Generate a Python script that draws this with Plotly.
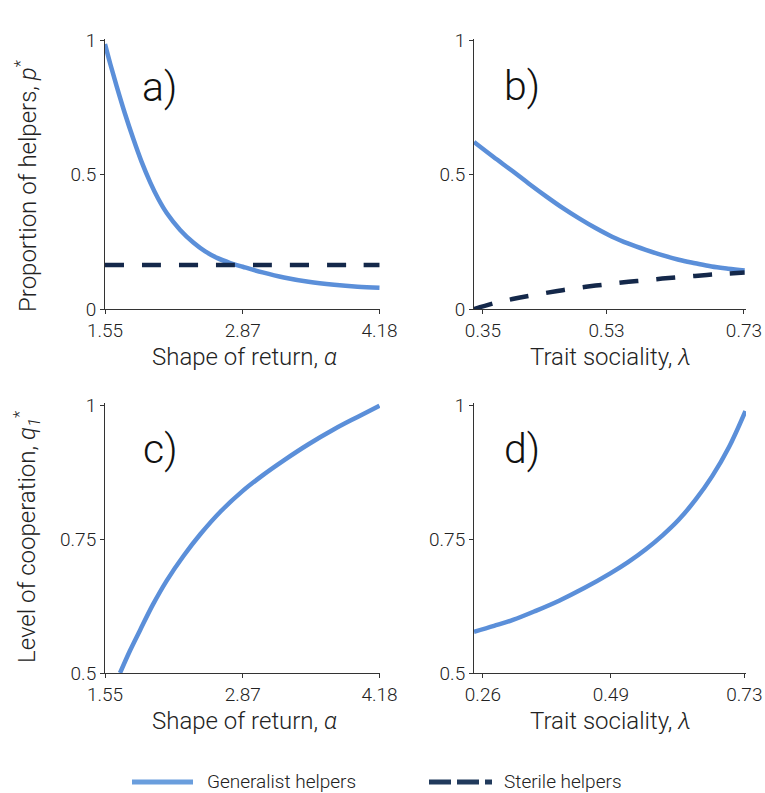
import plotly.graph_objects as go

W, H = 765, 793

# ---------------- data ----------------
# Panel a: proportion of helpers vs shape of return (alpha)
a_alpha = [1.55, 1.60, 1.662, 1.74, 1.822, 1.90, 1.982, 2.06, 2.143, 2.27, 2.399, 2.51, 2.623, 2.75, 2.87, 3.06, 3.264, 3.50, 3.745, 3.97, 4.18]
a_generalist = [0.985, 0.912, 0.828, 0.728, 0.632, 0.548, 0.472, 0.410, 0.356, 0.294, 0.246, 0.214, 0.190, 0.171, 0.157, 0.136, 0.117, 0.101, 0.090, 0.083, 0.079]
a_sterile = [0.164] * len(a_alpha)

# Panel b: proportion of helpers vs trait sociality (lambda)
b_lambda = [0.337, 0.365, 0.393, 0.417, 0.442, 0.466, 0.490, 0.514, 0.538, 0.562, 0.587, 0.611, 0.635, 0.659, 0.683, 0.707, 0.731]
b_generalist = [0.621, 0.566, 0.513, 0.466, 0.419, 0.376, 0.337, 0.301, 0.269, 0.243, 0.220, 0.200, 0.183, 0.170, 0.158, 0.150, 0.143]
b_sterile = [0.0, 0.021, 0.037, 0.049, 0.060, 0.070, 0.079, 0.087, 0.094, 0.101, 0.107, 0.113, 0.118, 0.123, 0.128, 0.132, 0.136]

# Panel c: level of cooperation vs shape of return (alpha)
c_alpha = [1.694, 1.79, 1.886, 2.01, 2.143, 2.30, 2.463, 2.66, 2.87, 3.06, 3.264, 3.50, 3.745, 3.97, 4.18]
c_generalist = [0.50, 0.542, 0.580, 0.628, 0.673, 0.718, 0.759, 0.802, 0.840, 0.869, 0.897, 0.927, 0.955, 0.978, 0.999]

# Panel d: level of cooperation vs trait sociality (lambda)
d_lambda = [0.244, 0.28, 0.314, 0.355, 0.397, 0.443, 0.489, 0.521, 0.553, 0.583, 0.612, 0.642, 0.672, 0.702, 0.732]
d_generalist = [0.577, 0.588, 0.599, 0.616, 0.635, 0.659, 0.686, 0.707, 0.731, 0.757, 0.786, 0.823, 0.867, 0.921, 0.989]

# tick labels
a_xticks = [1.55, 2.87, 4.18]
b_xticks = [0.35, 0.53, 0.73]
d_xticks = [0.26, 0.49, 0.73]
top_yticks = [0, 0.5, 1]
top_yticklabels = ["0", "0.5", "1"]
bot_yticks = [0.5, 0.75, 1]
bot_yticklabels = ["0.5", "0.75", "1"]

series_names = ["Generalist helpers", "Sterile helpers"]
panel_labels = ["a)", "b)", "c)", "d)"]

# ---------------- styling ----------------
BLUE = "#5b8fd9"
NAVY = "#14284a"
FONT = "Roboto"
TXT = "#222222"
LW = 4.5
DASH = "19px,18px"

fig = go.Figure()

def px_x(p):
    return p / W

def px_y(p):
    return 1 - p / H

dom_x_left = [px_x(105), px_x(380)]
dom_x_right = [px_x(474), px_x(746)]
dom_y_top = [px_y(309), px_y(39)]
dom_y_bot = [px_y(673), px_y(403)]

def line(color, dash=None):
    d = dict(color=color, width=LW, shape="spline", smoothing=1.0)
    if dash:
        d["dash"] = dash
    return d

fig.add_trace(go.Scatter(x=a_alpha, y=a_generalist, mode="lines", name=series_names[0],
                         line=line(BLUE), xaxis="x", yaxis="y", showlegend=False))
fig.add_trace(go.Scatter(x=a_alpha, y=a_sterile, mode="lines", name=series_names[1],
                         line=line(NAVY, DASH), xaxis="x", yaxis="y", showlegend=False))
fig.add_trace(go.Scatter(x=b_lambda, y=b_generalist, mode="lines", name=series_names[0],
                         line=line(BLUE), xaxis="x2", yaxis="y2", showlegend=False))
fig.add_trace(go.Scatter(x=b_lambda, y=b_sterile, mode="lines", name=series_names[1],
                         line=line(NAVY, DASH), xaxis="x2", yaxis="y2", showlegend=False))
fig.add_trace(go.Scatter(x=c_alpha, y=c_generalist, mode="lines", name=series_names[0],
                         line=line(BLUE), xaxis="x3", yaxis="y3", showlegend=False))
fig.add_trace(go.Scatter(x=d_lambda, y=d_generalist, mode="lines", name=series_names[0],
                         line=line(BLUE), xaxis="x4", yaxis="y4", showlegend=False))

axis_common = dict(showgrid=False, zeroline=False, showline=True, linecolor="#333333", linewidth=1,
                   ticks="outside", ticklen=4, tickcolor="#333333", tickwidth=1, automargin=False,
                   tickfont=dict(family=FONT, size=19, color=TXT, weight=300), fixedrange=True)

fig.update_layout(
    width=W, height=H,
    autosize=False,
    margin=dict(l=0, r=0, t=0, b=0, pad=0, autoexpand=False),
    paper_bgcolor="white", plot_bgcolor="white",
    font=dict(family=FONT, color=TXT, weight=300),
    showlegend=False,
    xaxis=dict(domain=dom_x_left, range=[1.55, 4.185], tickvals=a_xticks, ticktext=[f"{v:.2f}" for v in a_xticks], anchor="y", **axis_common),
    yaxis=dict(domain=dom_y_top, range=[0, 1.004], tickvals=top_yticks, ticktext=top_yticklabels, anchor="x", **axis_common),
    xaxis2=dict(domain=dom_x_right, range=[0.337, 0.733], tickvals=b_xticks, ticktext=[f"{v:.2f}" for v in b_xticks], anchor="y2", **axis_common),
    yaxis2=dict(domain=dom_y_top, range=[0, 1.004], tickvals=top_yticks, ticktext=top_yticklabels, anchor="x2", **axis_common),
    xaxis3=dict(domain=dom_x_left, range=[1.55, 4.185], tickvals=a_xticks, ticktext=[f"{v:.2f}" for v in a_xticks], anchor="y3", **axis_common),
    yaxis3=dict(domain=dom_y_bot, range=[0.5, 1.004], tickvals=bot_yticks, ticktext=bot_yticklabels, anchor="x3", **axis_common),
    xaxis4=dict(domain=dom_x_right, range=[0.244, 0.733], tickvals=d_xticks, ticktext=[f"{v:.2f}" for v in d_xticks], anchor="y4", **axis_common),
    yaxis4=dict(domain=dom_y_bot, range=[0.5, 1.004], tickvals=bot_yticks, ticktext=bot_yticklabels, anchor="x4", **axis_common),
)

xtitle_font = dict(family=FONT, size=24, color=TXT, weight=300)
ytitle_font = dict(family=FONT, size=24, color=TXT, weight=300)
ann = []
for cx, cy, txt in [(245, 357, "Shape of return, <i>α</i>"), (610, 357, "Trait sociality, <i>λ</i>"),
                    (245, 721, "Shape of return, <i>α</i>"), (610, 721, "Trait sociality, <i>λ</i>")]:
    ann.append(dict(x=px_x(cx), y=px_y(cy), xref="paper", yref="paper", text=txt, showarrow=False,
                    xanchor="center", yanchor="middle", font=xtitle_font))
ann.append(dict(x=px_x(26), y=px_y(186), xref="paper", yref="paper",
                text="Proportion of helpers, <i>p</i><sup>*</sup>", textangle=-90, showarrow=False,
                xanchor="center", yanchor="middle", font=ytitle_font))
ann.append(dict(x=px_x(26), y=px_y(537), xref="paper", yref="paper",
                text="Level of cooperation, <i>q<sub>1</sub></i><sup>*</sup>", textangle=-90, showarrow=False,
                xanchor="center", yanchor="middle", font=ytitle_font))
for (cx, cy), lab in zip([(159, 87), (522, 86), (160, 449), (522, 449)], panel_labels):
    ann.append(dict(x=px_x(cx), y=px_y(cy), xref="paper", yref="paper", text=lab, showarrow=False,
                    xanchor="center", yanchor="middle", font=dict(family=FONT, size=41, color="#111111", weight=300)))
leg_font = dict(family=FONT, size=19, color=TXT, weight=300)
ann.append(dict(x=px_x(205), y=px_y(781), xref="paper", yref="paper", text=series_names[0], showarrow=False,
                xanchor="left", yanchor="middle", font=leg_font))
ann.append(dict(x=px_x(502), y=px_y(781), xref="paper", yref="paper", text=series_names[1], showarrow=False,
                xanchor="left", yanchor="middle", font=leg_font))
fig.update_layout(annotations=ann)

fig.add_shape(type="line", xref="paper", yref="paper", x0=px_x(132), x1=px_x(193), y0=px_y(782), y1=px_y(782),
              line=dict(color="#6a9edd", width=5))
fig.add_shape(type="line", xref="paper", yref="paper", x0=px_x(429), x1=px_x(492), y0=px_y(782), y1=px_y(782),
              line=dict(color="#213a5c", width=5, dash="22px,6px"))

fig.write_html("out.html")
